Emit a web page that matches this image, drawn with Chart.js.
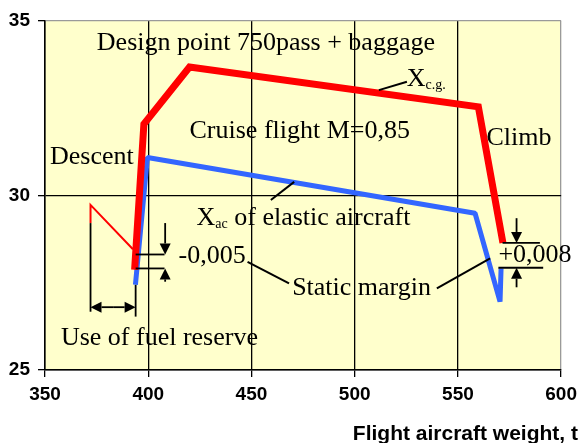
<!DOCTYPE html>
<html><head><meta charset="utf-8">
<script src="https://cdn.jsdelivr.net/npm/chart.js@4/dist/chart.umd.min.js"></script>
<style>html,body{margin:0;padding:0;background:#fff}</style>
</head><body>
<canvas id="c" width="583" height="443"></canvas>
<script>
// Axis ticks
const xTicks = [350, 400, 450, 500, 550, 600];
const yTicks = [25, 30, 35];

// Centre of gravity position over flight weight
const xcgWeight = [393.4, 397.9, 420.0, 559.9, 571.8];
const xcgPos    = [27.87, 32.05, 33.68, 32.54, 28.64];

// Fuel reserve use (thin red)
const reserveWeight = [372.05, 372.05, 392.6];
const reservePos    = [29.21, 29.73, 28.46];

// Aerodynamic centre of the elastic aircraft
const xacWeight = [393.8, 399.6, 558.3, 570.4, 570.9];
const xacPos    = [27.44, 31.09, 29.49, 26.96, 27.91];

// Annotation geometry, in axis units (weight, position)
const leaderLines = [
  [[511.7, 33.02], [525.3, 33.26]],
  [[459.4, 29.87], [470.7, 30.39]],
  [[448.1, 28.10], [468.2, 27.48]],
  [[539.8, 27.34], [565.6, 28.20]]
];
const dimLines = [
  [[372.05, 29.21], [372.05, 26.67]],
  [[393.9, 27.44], [393.9, 26.53]],
  [[393.9, 28.31], [407.9, 28.31]],
  [[393.9, 27.91], [407.9, 27.91]],
  [[571.6, 28.64], [589.7, 28.64]],
  [[569.6, 27.93], [591.3, 27.93]]
];
const arrows = [
  [[408.2, 29.21], [408.2, 28.31]],
  [[408.2, 27.53], [408.2, 27.91]],
  [[578.4, 29.35], [578.4, 28.64]],
  [[578.4, 27.37], [578.4, 27.93]],
  [[383.0, 26.80], [372.05, 26.80]],
  [[383.0, 26.80], [393.9, 26.80]]
];
const notes = [
  { text: 'Design point 750pass + baggage', x: 375.1, y: 34.17 },
  { text: 'Cruise flight M=0,85', x: 420.0, y: 31.65 },
  { text: 'Descent', x: 352.4, y: 30.90 },
  { text: 'Climb', x: 563.8, y: 31.45 },
  { text: 'X', sub: 'c.g.', x: 525.2, y: 33.14 },
  { text: 'X', sub: 'ac', rest: ' of elastic aircraft', x: 423.4, y: 29.15 },
  { text: '-0,005', x: 414.7, y: 28.07 },
  { text: 'Static margin', x: 469.7, y: 27.15 },
  { text: '+0,008', x: 569.6, y: 28.09 },
  { text: 'Use of fuel reserve', x: 357.7, y: 25.72 }
];
const xTitle = 'Flight aircraft weight, t';

const zip = (xs, ys) => xs.map((x, i) => ({ x, y: ys[i] }));

const plotBackground = {
  id: 'plotBackground',
  beforeDraw(chart) {
    const { ctx, chartArea: a } = chart;
    ctx.save();
    ctx.fillStyle = '#ffffcc';
    ctx.fillRect(a.left, a.top, a.right - a.left, a.bottom - a.top);
    ctx.restore();
  }
};

const annotations = {
  id: 'annotations',
  afterDatasetsDraw(chart) {
    const { ctx, scales: { x, y } } = chart;
    const px = p => [x.getPixelForValue(p[0]), y.getPixelForValue(p[1])];
    ctx.save();
    ctx.strokeStyle = '#000';
    ctx.fillStyle = '#000';
    ctx.lineCap = 'butt';

    ctx.lineWidth = 2;
    leaderLines.forEach(([a, b]) => {
      const [x1, y1] = px(a), [x2, y2] = px(b);
      ctx.beginPath(); ctx.moveTo(x1, y1); ctx.lineTo(x2, y2); ctx.stroke();
    });
    ctx.lineWidth = 1.8;
    dimLines.forEach(([a, b]) => {
      const [x1, y1] = px(a), [x2, y2] = px(b);
      ctx.beginPath(); ctx.moveTo(x1, y1); ctx.lineTo(x2, y2); ctx.stroke();
    });
    arrows.forEach(([a, b]) => {
      const [x1, y1] = px(a), [x2, y2] = px(b);
      const ang = Math.atan2(y2 - y1, x2 - x1);
      const len = 11, hw = 5.5;
      const bx = x2 - len * Math.cos(ang), by = y2 - len * Math.sin(ang);
      ctx.beginPath(); ctx.moveTo(x1, y1); ctx.lineTo(bx, by); ctx.stroke();
      ctx.beginPath();
      ctx.moveTo(x2, y2);
      ctx.lineTo(bx + hw * Math.sin(ang), by - hw * Math.cos(ang));
      ctx.lineTo(bx - hw * Math.sin(ang), by + hw * Math.cos(ang));
      ctx.closePath(); ctx.fill();
    });

    ctx.textBaseline = 'alphabetic';
    ctx.textAlign = 'left';
    const main = '26px "Liberation Serif", "Times New Roman", serif';
    const small = '14px "Liberation Serif", "Times New Roman", serif';
    notes.forEach(n => {
      let [tx, ty] = px([n.x, n.y]);
      ctx.font = main;
      ctx.fillText(n.text, tx, ty);
      tx += ctx.measureText(n.text).width;
      if (n.sub) {
        ctx.font = small;
        ctx.fillText(n.sub, tx, ty + 3);
        tx += ctx.measureText(n.sub).width;
      }
      if (n.rest) {
        ctx.font = main;
        ctx.fillText(n.rest, tx, ty);
      }
    });
    ctx.restore();
  },
  afterDraw(chart) {
    const { ctx } = chart;
    ctx.save();
    ctx.fillStyle = '#000';
    ctx.font = 'bold 21px "Liberation Sans", Arial, sans-serif';
    ctx.textAlign = 'right';
    ctx.textBaseline = 'alphabetic';
    ctx.fillText(xTitle, chart.width - 5, chart.height - 3);
    ctx.restore();
  }
};

const tickFont = { family: '"Liberation Sans", Arial, sans-serif', size: 19, weight: 'bold' };

new Chart(document.getElementById('c'), {
  type: 'scatter',
  data: {
    datasets: [
      { data: zip(xcgWeight, xcgPos), showLine: true, borderColor: '#ff0000', borderWidth: 7,
        pointRadius: 0, borderJoinStyle: 'miter', borderCapStyle: 'butt', tension: 0 },
      { data: zip(reserveWeight, reservePos), showLine: true, borderColor: '#ff0000', borderWidth: 2,
        pointRadius: 0, borderJoinStyle: 'miter', tension: 0 },
      { data: zip(xacWeight, xacPos), showLine: true, borderColor: '#3366ff', borderWidth: 5,
        pointRadius: 0, borderJoinStyle: 'bevel', borderCapStyle: 'butt', tension: 0 }
    ]
  },
  options: {
    responsive: false,
    animation: false,
    devicePixelRatio: 1,
    layout: { padding: { top: 21, right: 20, left: 0, bottom: 0 } },
    plugins: { legend: { display: false }, tooltip: { enabled: false } },
    scales: {
      x: {
        type: 'linear', min: 350, max: 600,
        afterBuildTicks: s => { s.ticks = xTicks.map(v => ({ value: v })); },
        afterFit: s => { s.height = 73; },
        grid: {
          color: c => (c.tick && c.tick.value === 600) ? '#9a9a9a' : '#000',
          tickColor: '#000', tickLength: 7, lineWidth: 1.3
        },
        border: { color: '#000', width: 1.5 },
        ticks: { color: '#000', font: tickFont, padding: 6, maxRotation: 0 }
      },
      y: {
        type: 'linear', min: 25, max: 35,
        afterBuildTicks: s => { s.ticks = yTicks.map(v => ({ value: v })); },
        afterFit: s => { s.width = 45; },
        grid: {
          color: c => (c.tick && c.tick.value === 35) ? '#9a9a9a' : '#000',
          tickColor: '#000', tickLength: 7, lineWidth: 1.3
        },
        border: { color: '#000', width: 1.5 },
        ticks: { color: '#000', font: tickFont, padding: 8 }
      }
    }
  },
  plugins: [plotBackground, annotations]
});
</script>
</body></html>
